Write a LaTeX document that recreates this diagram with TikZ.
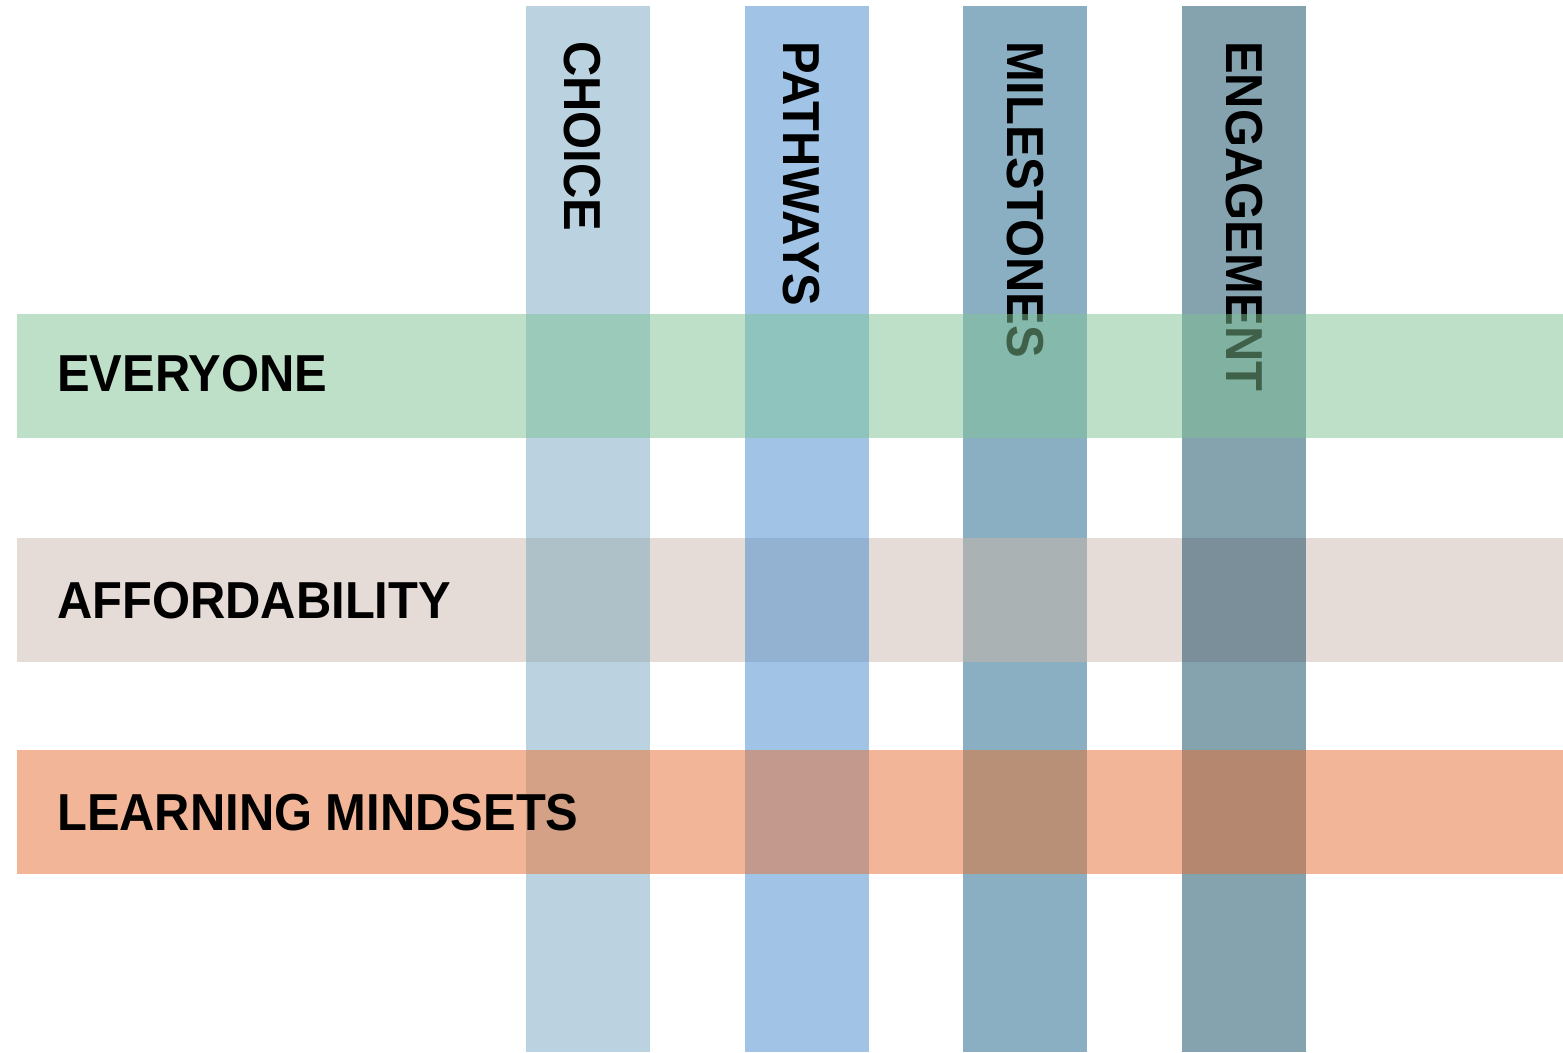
\documentclass[tikz,border=0pt]{standalone}
\usepackage{fontspec}
\newfontfamily\labfont[FakeStretch=0.94]{Liberation Sans}
\definecolor{cChoice}{HTML}{BBD3E0}
\definecolor{cPath}{HTML}{A1C4E6}
\definecolor{cMile}{HTML}{8AAFC2}
\definecolor{cEng}{HTML}{85A2AF}
\definecolor{cGreen}{RGB}{127,195,149}
\definecolor{cBeige}{HTML}{E5DBD7}
\definecolor{cOrange}{HTML}{F2B597}
\definecolor{bChoice}{HTML}{AEC1C8}
\definecolor{bPath}{HTML}{93B1D1}
\definecolor{bMile}{HTML}{ABB2B4}
\definecolor{bEng}{HTML}{7A8F99}
\definecolor{oChoice}{HTML}{D4A187}
\definecolor{oPath}{HTML}{C4998D}
\definecolor{oMile}{HTML}{B88F77}
\definecolor{oEng}{HTML}{B6876F}
\begin{document}
\begin{tikzpicture}[x=1pt,y=-1pt,
  lab/.style={inner sep=0pt,font=\labfont\bfseries\fontsize{52}{60}\selectfont,text=black},
  rowlab/.style={lab,anchor=base west},
  collab/.style={lab,anchor=base west,rotate=-90}]
\useasboundingbox (0,0) rectangle (1563,1052);
\fill[white] (0,0) rectangle (1563,1052);
% beige row (under columns)
\fill[cBeige] (17,538) rectangle (1563,662);
% columns
\fill[cChoice] (526,6) rectangle (650,1052);
\fill[cPath] (745,6) rectangle (869,1052);
\fill[cMile] (963,6) rectangle (1087,1052);
\fill[cEng] (1182,6) rectangle (1306,1052);
% beige intersections
\fill[bChoice] (526,538) rectangle (650,662);
\fill[bPath] (745,538) rectangle (869,662);
\fill[bMile] (963,538) rectangle (1087,662);
\fill[bEng] (1182,538) rectangle (1306,662);
% orange row
\fill[cOrange] (17,750) rectangle (1563,874);
\fill[oChoice] (526,750) rectangle (650,874);
\fill[oPath] (745,750) rectangle (869,874);
\fill[oMile] (963,750) rectangle (1087,874);
\fill[oEng] (1182,750) rectangle (1306,874);
% column labels
\node[collab] (choice) at (564,41) {CHOICE};
\node[collab] (pathways) at (783,41) {PATHWAYS};
\node[collab] (milestones) at (1007,41) {MILESTONES};
\node[collab] (engagement) at (1226,41) {ENGAGEMENT};
% green row on top, translucent
\fill[cGreen,fill opacity=0.5] (17,314) rectangle (1563,438);
% row labels
\node[rowlab] (everyone) at (57,391) {EVERYONE};
\node[rowlab] (afford) at (57,618) {AFFORDABILITY};
\node[rowlab] (learning) at (57,830) {LEARNING MINDSETS};
\end{tikzpicture}
\end{document}
